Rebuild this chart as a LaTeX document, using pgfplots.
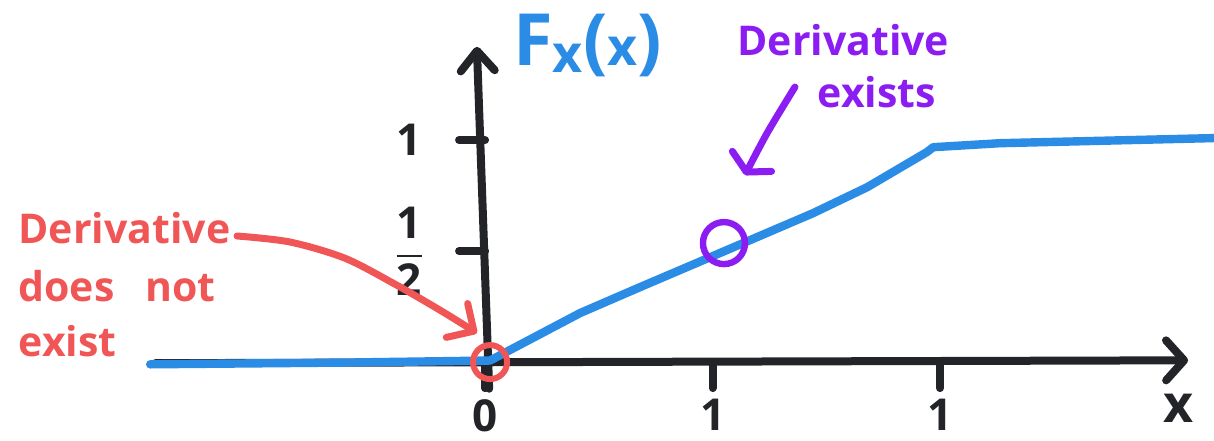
\documentclass[border=0pt]{standalone}
\usepackage{fontspec}
\setmainfont{Open Sans}
\usepackage{amsmath}
\usepackage{pgfplots}
\pgfplotsset{compat=1.18}
\usetikzlibrary{arrows.meta}

\definecolor{cdfblue}{HTML}{2B8CE6}
\definecolor{notered}{HTML}{F05656}
\definecolor{notepurple}{HTML}{8B1CF2}
\definecolor{ink}{HTML}{222428}

% CDF: flat at 0, rising to 1 on [0,1], flat at 1 afterwards
\pgfplotstableread{
x      y
-0.736 -0.010
-0.300 -0.002
0.011  0.007
0.209  0.221
0.341  0.338
0.516  0.491
0.721  0.671
0.840  0.788
0.971  0.946
0.985  0.968
1.132  0.986
1.602  1.009
}\cdftable

\begin{document}
\begin{tikzpicture}
\begin{axis}[
  scale only axis, width=607pt, height=220pt,
  xmin=-1.066, xmax=1.602, ymin=-0.351, ymax=1.631,
  axis lines=middle, axis line style={draw=none},
  clip=false,
  hide obscured x ticks=false, hide obscured y ticks=false,
  xtick={0,0.5,1}, ytick={0.5,1},
  xticklabels={0,$\dfrac{\textbf{1}}{\textbf{2}}$,1},
  yticklabels={$\dfrac{\textbf{1}}{\textbf{2}}$,1},
  tick align=outside,
  major tick length=13pt,
  every tick/.style={ink, line width=4pt, line cap=round},
  tick label style={font=\bfseries\fontsize{22}{26}\selectfont, text=ink},
  xticklabel style={anchor=north, yshift=-2pt},
  yticklabel style={anchor=center, xshift=-25pt},
]
% axes, hand-drawn with open arrowheads
\addplot[ink, line width=4pt, line cap=round,
  -{Straight Barb[length=9pt,width=20pt,round]}]
  coordinates {(-0.725,-0.005) (1.545,0.008)};
\addplot[ink, line width=4pt, line cap=round,
  -{Straight Barb[length=10pt,width=17pt,round]}]
  coordinates {(0.009,-0.12) (-0.018,1.42)};

% the CDF
\addplot[cdfblue, line width=4.2pt, line cap=round, line join=round]
  table[x=x, y=y] {\cdftable};

% kink at the origin
\addplot[notered, line width=3pt, only marks, mark=o, mark size=8.5pt,
  mark options={solid, line width=3pt}] coordinates {(0.011,0.0)};
\addplot[notered, line width=3.5pt, line cap=round, smooth,
  -{Straight Barb[length=10pt,width=20pt,round]}]
  coordinates {(-0.545,0.568)(-0.429,0.541)(-0.308,0.468)(-0.198,0.351)(-0.099,0.234)(-0.018,0.131)};

% smooth point at x = 1/2
\addplot[notepurple, line width=3pt, only marks, mark=o, mark size=10.5pt,
  mark options={solid, line width=3.2pt}] coordinates {(0.525,0.536)};
\addplot[notepurple, line width=3.5pt, line cap=round, smooth,
  -{Straight Barb[length=6pt,width=22pt,round]}]
  coordinates {(0.681,1.239)(0.620,1.032)(0.571,0.842)};

% annotations
\tikzset{note/.style={anchor=base west, inner sep=0pt,
  font=\bfseries\fontsize{20.5}{25}\selectfont}}
\node[note, text=notered] at (axis cs:-1.026,0.536) {Derivative};
\node[note, text=notered] at (axis cs:-1.026,0.275) {does\hspace{0.75em}not};
\node[note, text=notered] at (axis cs:-1.026,0.023) {exist};
\node[note, text=notepurple] at (axis cs:0.554,1.383) {Derivative};
\node[note, text=notepurple] at (axis cs:0.730,1.149) {exists};
\node[anchor=base west, text=cdfblue, inner sep=0pt,
  font=\bfseries\fontsize{36}{40}\selectfont]
  at (axis cs:0.0615,1.338)
  {F\raisebox{-0.1em}{\fontsize{26}{28}\selectfont x}(\fontsize{26}{28}\selectfont x\fontsize{36}{40}\selectfont)};
\node[anchor=base, text=ink, inner sep=0pt,
  font=\bfseries\fontsize{26}{28}\selectfont]
  at (axis cs:1.525,-0.27) {x};

\coordinate (bbsw) at (rel axis cs:0,0);
\coordinate (bbne) at (rel axis cs:1,1);
\end{axis}
\pgfresetboundingbox
\useasboundingbox (bbsw) rectangle (bbne);
\end{tikzpicture}
\end{document}
